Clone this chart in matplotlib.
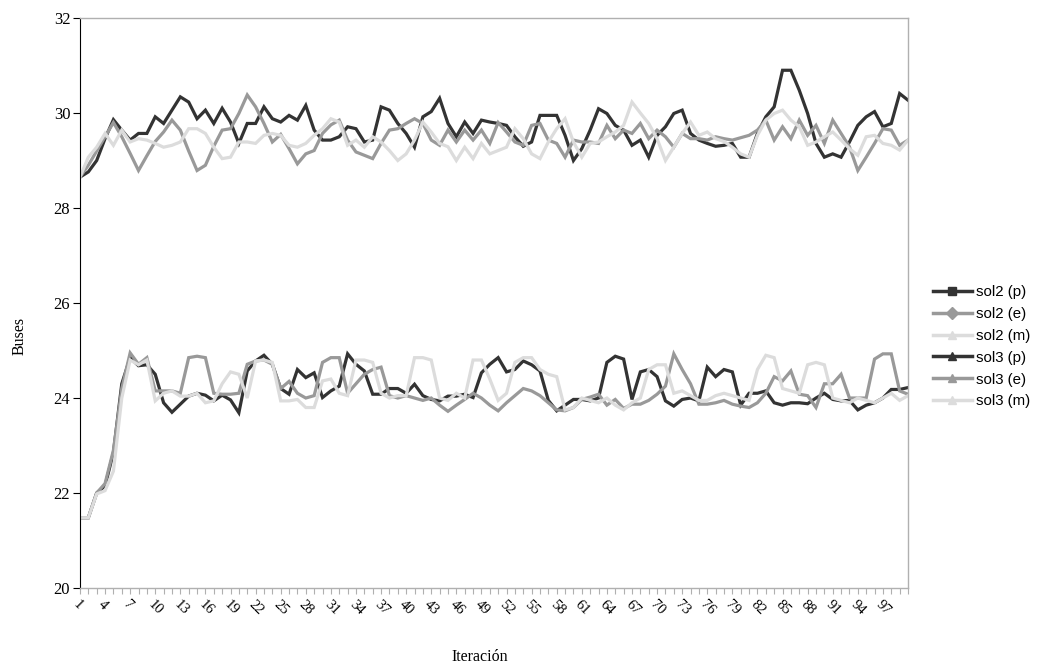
import matplotlib
matplotlib.use("Agg")
from matplotlib import pyplot as plt
from matplotlib.lines import Line2D
import numpy as np

iteraciones = list(range(1, 101))

sol2_p = [28.65, 28.76, 29.0, 29.46, 29.86, 29.64, 29.43, 29.57, 29.57, 29.92,
          29.78, 30.06, 30.34, 30.23, 29.88, 30.06, 29.78, 30.1, 29.81, 29.36,
          29.78, 29.78, 30.13, 29.88, 29.81, 29.95, 29.85, 30.16, 29.64, 29.43,
          29.43, 29.5, 29.71, 29.67, 29.39, 29.43, 30.13, 30.06, 29.78, 29.57,
          29.28, 29.92, 30.03, 30.31, 29.78, 29.5, 29.81, 29.57, 29.85, 29.81,
          29.78, 29.74, 29.5, 29.3, 29.39, 29.95, 29.95, 29.95, 29.53, 29.0,
          29.25, 29.64, 30.09, 29.99, 29.74, 29.64, 29.32, 29.43, 29.07, 29.53,
          29.71, 29.99, 30.06, 29.57, 29.43, 29.36, 29.3, 29.32, 29.36, 29.07,
          29.07, 29.57, 29.92, 30.13, 30.9, 30.9, 30.48, 29.99, 29.36, 29.07,
          29.14, 29.07, 29.39, 29.74, 29.92, 30.03, 29.71, 29.78, 30.41, 30.27]

sol2_e = [28.65, 28.9, 29.2, 29.5, 29.8, 29.5, 29.15, 28.79, 29.1, 29.4,
          29.6, 29.85, 29.64, 29.2, 28.79, 28.9, 29.3, 29.64, 29.67, 29.99,
          30.38, 30.13, 29.78, 29.39, 29.55, 29.25, 28.93, 29.14, 29.21, 29.57,
          29.75, 29.85, 29.43, 29.18, 29.11, 29.04, 29.36, 29.64, 29.67, 29.78,
          29.88, 29.78, 29.43, 29.32, 29.64, 29.39, 29.64, 29.43, 29.64, 29.36,
          29.8, 29.6, 29.39, 29.32, 29.74, 29.78, 29.43, 29.36, 29.07, 29.43,
          29.39, 29.39, 29.36, 29.74, 29.46, 29.64, 29.57, 29.78, 29.46, 29.64,
          29.5, 29.28, 29.57, 29.46, 29.46, 29.43, 29.5, 29.46, 29.43, 29.48,
          29.53, 29.64, 29.85, 29.43, 29.71, 29.46, 29.85, 29.53, 29.74, 29.36,
          29.85, 29.57, 29.29, 28.79, 29.07, 29.36, 29.67, 29.64, 29.32, 29.43]

sol2_m = [28.65, 29.07, 29.28, 29.57, 29.32, 29.64, 29.39, 29.46, 29.43, 29.36,
          29.28, 29.32, 29.39, 29.67, 29.67, 29.57, 29.28, 29.04, 29.07, 29.39,
          29.39, 29.36, 29.53, 29.57, 29.53, 29.32, 29.28, 29.36, 29.53, 29.67,
          29.88, 29.81, 29.32, 29.43, 29.28, 29.5, 29.39, 29.21, 29.0, 29.14,
          29.43, 29.81, 29.6, 29.36, 29.29, 29.0, 29.28, 29.04, 29.36, 29.14,
          29.21, 29.28, 29.67, 29.46, 29.14, 29.04, 29.39, 29.67, 29.88, 29.39,
          29.07, 29.36, 29.39, 29.5, 29.6, 29.74, 30.23, 30.0, 29.78, 29.46,
          29.0, 29.28, 29.57, 29.81, 29.53, 29.6, 29.46, 29.4, 29.28, 29.14,
          29.07, 29.53, 29.85, 29.99, 30.06, 29.85, 29.71, 29.32, 29.39, 29.5,
          29.6, 29.43, 29.25, 29.11, 29.5, 29.53, 29.36, 29.32, 29.22, 29.43]

sol3_p = [21.48, 21.48, 22.0, 22.15, 22.85, 24.3, 24.85, 24.68, 24.7, 24.5,
          23.9, 23.7, 23.87, 24.04, 24.1, 24.06, 23.94, 24.06, 23.96, 23.69,
          24.57, 24.78, 24.9, 24.71, 24.2, 24.08, 24.6, 24.43, 24.53, 24.01,
          24.15, 24.25, 24.93, 24.71, 24.57, 24.08, 24.08, 24.2, 24.2, 24.1,
          24.29, 24.05, 23.97, 23.94, 24.04, 24.04, 24.08, 24.01, 24.53, 24.71,
          24.85, 24.55, 24.6, 24.78, 24.7, 24.57, 23.95, 23.73, 23.85, 23.97,
          23.97, 23.94, 24.0, 24.75, 24.88, 24.82, 23.97, 24.55, 24.6, 24.45,
          23.94, 23.83, 23.97, 24.0, 23.94, 24.65, 24.45, 24.6, 24.55, 23.85,
          24.1, 24.1, 24.15, 23.9, 23.85, 23.9, 23.9, 23.88, 24.0, 24.1,
          23.97, 23.94, 23.95, 23.75, 23.85, 23.9, 24.0, 24.18, 24.18, 24.22]

sol3_e = [21.48, 21.48, 22.0, 22.2, 22.9, 24.2, 24.95, 24.71, 24.85, 24.15,
          24.15, 24.15, 24.1, 24.85, 24.88, 24.85, 24.1, 24.08, 24.08, 24.1,
          24.71, 24.78, 24.8, 24.71, 24.2, 24.35, 24.1, 24.0, 24.05, 24.75,
          24.85, 24.85, 24.1, 24.3, 24.5, 24.6, 24.65, 24.05, 24.0, 24.05,
          24.0, 23.95, 24.0, 23.85, 23.72, 23.85, 23.97, 24.1, 24.0, 23.85,
          23.73, 23.9, 24.05, 24.2, 24.15, 24.05, 23.9, 23.75, 23.73, 23.8,
          23.97, 24.02, 24.08, 23.85, 23.97, 23.78, 23.87, 23.87, 23.95, 24.08,
          24.25, 24.93, 24.6, 24.3, 23.87, 23.87, 23.9, 23.95, 23.87, 23.83,
          23.8, 23.9, 24.1, 24.45, 24.36, 24.57, 24.08, 24.05, 23.8, 24.3,
          24.3, 24.5, 24.0, 24.0, 24.0, 24.82, 24.93, 24.93, 24.15, 24.08]

sol3_m = [21.48, 21.48, 21.98, 22.05, 22.46, 24.0, 24.8, 24.7, 24.8, 23.94,
          24.1, 24.15, 24.04, 24.04, 24.1, 23.9, 23.94, 24.3, 24.55, 24.5,
          24.0, 24.78, 24.8, 24.75, 23.94, 23.94, 23.97, 23.8, 23.8, 24.36,
          24.4, 24.1, 24.05, 24.8, 24.8, 24.75, 24.1, 24.0, 24.05, 24.05,
          24.85, 24.85, 24.8, 24.0, 23.95, 24.1, 24.0, 24.8, 24.8, 24.4,
          23.95, 24.1, 24.75, 24.85, 24.85, 24.6, 24.5, 24.45, 23.75, 23.8,
          24.0, 23.95, 23.9, 24.0, 23.85, 23.75, 23.9, 24.0, 24.6, 24.7,
          24.7, 24.1, 24.15, 24.05, 23.95, 23.95, 24.05, 24.1, 24.05, 24.0,
          23.95, 24.6, 24.9, 24.85, 24.2, 24.15, 24.1, 24.7, 24.75, 24.7,
          24.0, 23.95, 23.9, 24.0, 23.95, 23.9, 24.0, 24.1, 23.95, 24.05]

nombres = ["sol2 (p)", "sol2 (e)", "sol2 (m)", "sol3 (p)", "sol3 (e)", "sol3 (m)"]
series = [sol2_p, sol2_e, sol2_m, sol3_p, sol3_e, sol3_m]
colores = ["#333333", "#999999", "#dcdcdc", "#333333", "#999999", "#dcdcdc"]
marcas = ["s", "D", "^", "^", "^", "^"]

serif = ["Liberation Serif", "DejaVu Serif"]

fig = plt.figure(figsize=(10.37, 6.67), dpi=100)
ax = fig.add_axes([0.0771, 0.1184, 0.7985, 0.8546])

for y, c in zip(series, colores):
    ax.plot(iteraciones, y, color=c, linewidth=2.3, solid_joinstyle="miter")

ax.set_xlim(1, 100)
ax.set_ylim(20, 32)
ax.set_yticks(range(20, 33, 2))
ax.set_xticks(iteraciones)
# etiquetas cada 3 iteraciones, hasta 97
ax.set_xticklabels([str(i) if (i - 1) % 3 == 0 and i < 100 else "" for i in iteraciones],
                   rotation=-45, ha="left", va="top", rotation_mode="anchor",
                   family=serif, fontsize=10.5)
for lab in ax.get_yticklabels():
    lab.set_family(serif)
    lab.set_fontsize(12)

ax.tick_params(axis="x", direction="out", length=4, width=0.8, color="#b0b0b0", pad=3)
ax.tick_params(axis="y", direction="out", length=5, width=0.8, color="black", pad=2)

ax.spines["left"].set_color("black")
for s in ["top", "right", "bottom"]:
    ax.spines[s].set_color("#b0b0b0")
    ax.spines[s].set_linewidth(1)

fig.text(0.0193, 0.497, "Buses", rotation=90, ha="center", va="center",
         family=serif, fontsize=11.5)
fig.text(0.463, 0.015, "Iteración", ha="center", va="center",
         family=serif, fontsize=11.5)

handles = [Line2D([0], [0], color=c, marker=m, markersize=6, linewidth=2.5,
                  markeredgecolor=c)
           for c, m in zip(colores, marcas)]
fig.legend(handles, nombres, loc="upper left", bbox_to_anchor=(0.895, 0.579),
           frameon=False, handlelength=2.6, labelspacing=0.52, handletextpad=0.3,
           borderaxespad=0, borderpad=0.3,
           prop={"family": ["Liberation Sans", "DejaVu Sans"], "size": 10.8})

fig.savefig("out.png", dpi=100)
